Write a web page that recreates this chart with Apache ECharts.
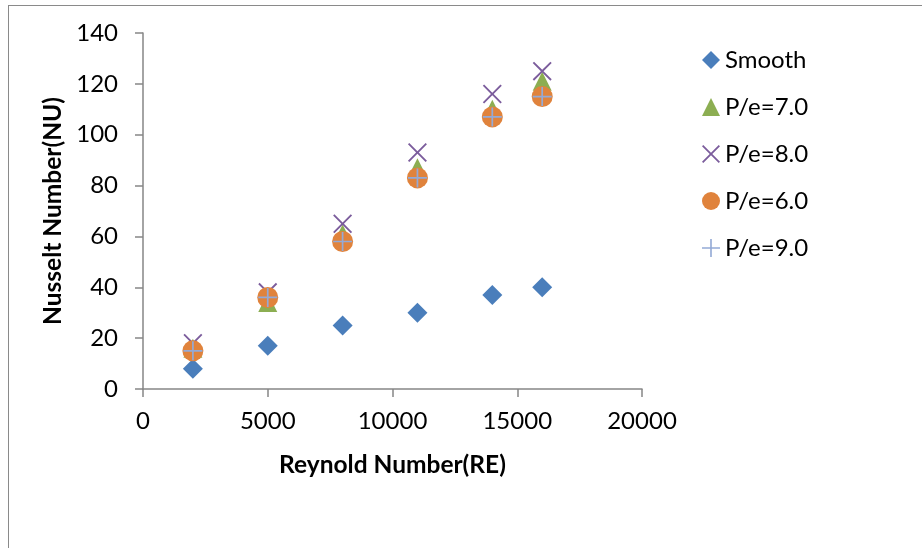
<!DOCTYPE html>
<html>
<head>
<meta charset="utf-8">
<script src="https://cdn.jsdelivr.net/npm/echarts@6/dist/echarts.min.js"></script>
<style>
html,body{margin:0;padding:0;background:#fff;}
#frame{position:absolute;left:8px;top:5px;width:930px;height:560px;border:1.5px solid #8a8a8a;box-sizing:border-box;}
#chart{position:absolute;left:0;top:0;width:922px;height:548px;}
</style>
</head>
<body>
<div id="frame"></div>
<div id="chart"></div>
<script>
const reynolds = [2000, 5000, 8000, 11000, 14000, 16000];
const smooth = [8, 17, 25, 30, 37, 40];
const pe7 = [16, 34, 61, 87, 110, 121];
const pe8 = [18, 38, 65, 93, 116, 125];
const pe6 = [15, 36, 58, 83, 107, 115];
const pe9 = [15, 36, 58, 83, 107, 115];
const seriesNames = ['Smooth', 'P/e=7.0', 'P/e=8.0', 'P/e=6.0', 'P/e=9.0'];
const xTicks = [0, 5000, 10000, 15000, 20000];
const yTicks = [0, 20, 40, 60, 80, 100, 120, 140];

const crossPath = 'path://M0,1.4L1.4,0L10,8.6L18.6,0L20,1.4L11.4,10L20,18.6L18.6,20L10,11.4L1.4,20L0,18.6L8.6,10Z';
const plusPath = 'path://M9.1,0h1.8v9.1h9.1v1.8h-9.1v9.1h-1.8v-9.1h-9.1v-1.8h9.1Z';

function pts(ys){ return reynolds.map((x,i)=>[x, ys[i]]); }

const font = 'Lato, "Open Sans", sans-serif';
const chart = echarts.init(document.getElementById('chart'), null, {renderer:'canvas'});
chart.setOption({
  animation:false,
  backgroundColor:'transparent',
  grid:{left:143, right:280, top:33, bottom:159, containLabel:false},
  xAxis:{
    type:'value', min:xTicks[0], max:xTicks[xTicks.length-1], interval:5000,
    name:'Reynold Number(RE)', nameLocation:'middle', nameGap:64,
    nameTextStyle:{fontFamily:font, fontWeight:'bold', fontSize:24.5, color:'#000'},
    axisLine:{show:true, lineStyle:{color:'#868686', width:1.5}},
    axisTick:{show:true, inside:false, length:8, lineStyle:{color:'#868686', width:1.5}},
    axisLabel:{fontFamily:font, fontSize:24, color:'#000', margin:20, formatter:v=>String(v)},
    splitLine:{show:false}
  },
  yAxis:{
    type:'value', min:yTicks[0], max:yTicks[yTicks.length-1], interval:20,
    name:'Nusselt Number(NU)', nameLocation:'middle', nameGap:76, nameRotate:90,
    nameTextStyle:{fontFamily:font, fontWeight:'bold', fontSize:24.5, color:'#000'},
    axisLine:{show:true, lineStyle:{color:'#868686', width:1.5}},
    axisTick:{show:true, inside:false, length:8, lineStyle:{color:'#868686', width:1.5}},
    axisLabel:{fontFamily:font, fontSize:24, color:'#000', margin:25, formatter:v=>String(v)},
    splitLine:{show:false}
  },
  legend:{
    orient:'vertical', left:697, top:43, itemWidth:18, itemHeight:18, itemGap:23,
    textStyle:{fontFamily:font, fontSize:24, color:'#000', lineHeight:24},
    data:seriesNames
  },
  series:[
    {name:seriesNames[0], type:'scatter', data:pts(smooth), symbol:'diamond', symbolSize:20, itemStyle:{color:'#4a7ebb', opacity:1}},
    {name:seriesNames[1], type:'scatter', data:pts(pe7), symbol:'triangle', symbolSize:19, itemStyle:{color:'#8cae52', opacity:1}},
    {name:seriesNames[2], type:'scatter', data:pts(pe8), symbol:crossPath, symbolSize:19, itemStyle:{color:'#7b5c9c', opacity:1}},
    {name:seriesNames[3], type:'scatter', data:pts(pe6), symbol:'circle', symbolSize:21, itemStyle:{color:'#e0833c', opacity:1}},
    {name:seriesNames[4], type:'scatter', data:pts(pe9), symbol:plusPath, symbolSize:19, itemStyle:{color:'#94aad6', opacity:1}}
  ]
});
</script>
</body>
</html>
